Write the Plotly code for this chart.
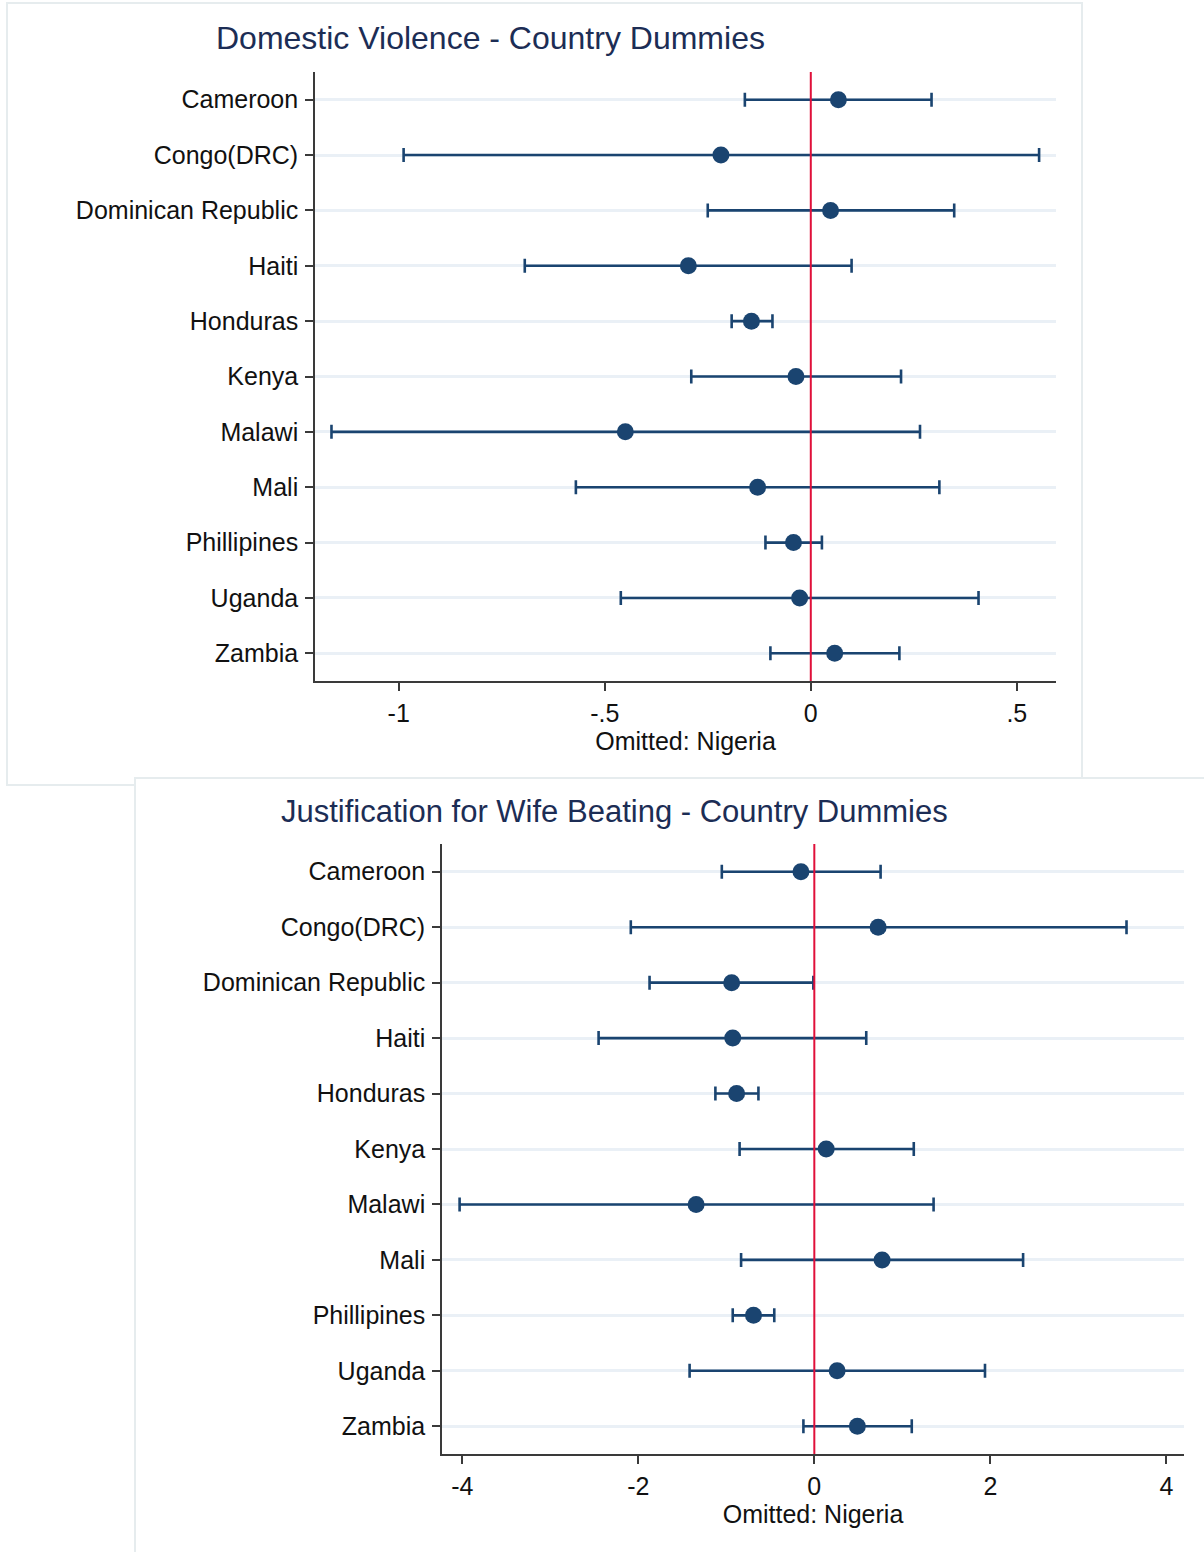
import plotly.graph_objects as go

W, H = 1204, 1552

countries = ["Cameroon", "Congo(DRC)", "Dominican Republic", "Haiti", "Honduras",
             "Kenya", "Malawi", "Mali", "Phillipines", "Uganda", "Zambia"]

# Panel 1: Domestic Violence
dv_est = [0.067, -0.218, 0.048, -0.297, -0.144, -0.036, -0.450, -0.129, -0.042, -0.027, 0.058]
dv_lo = [-0.160, -0.988, -0.250, -0.694, -0.192, -0.290, -1.163, -0.570, -0.110, -0.461, -0.098]
dv_hi = [0.293, 0.554, 0.348, 0.099, -0.093, 0.219, 0.265, 0.312, 0.027, 0.407, 0.215]
dv_ticks = [-1, -0.5, 0, 0.5]
dv_ticktext = ["-1", "-.5", "0", ".5"]

# Panel 2: Justification for Wife Beating
wb_est = [-0.152, 0.725, -0.939, -0.927, -0.883, 0.135, -1.343, 0.770, -0.691, 0.259, 0.489]
wb_lo = [-1.051, -2.085, -1.872, -2.451, -1.124, -0.849, -4.030, -0.832, -0.927, -1.417, -0.124]
wb_hi = [0.753, 3.547, -0.011, 0.590, -0.635, 1.130, 1.355, 2.372, -0.455, 1.939, 1.107]
wb_ticks = [-4, -2, 0, 2, 4]
wb_ticktext = ["-4", "-2", "0", "2", "4"]

titles = ["Domestic Violence - Country Dummies",
          "Justification for Wife Beating - Country Dummies"]
xtitle = "Omitted: Nigeria"

NAVY = "#1a4470"
RED = "#e0103a"
GRID = "#eaf0f6"
AXIS = "#3a3a3a"
TXT = "#111111"
TITLEC = "#1c2d55"
FONT = "Liberation Sans, Arial, sans-serif"


def px(x):
    return x / W


def py(y):
    return 1 - y / H


fig = go.Figure()


def add_panel(est, lo, hi, xa, ya):
    fig.add_trace(go.Scatter(
        x=est, y=countries, mode="markers",
        xaxis=xa, yaxis=ya,
        marker=dict(symbol="circle", size=17, color=NAVY),
        error_x=dict(type="data", symmetric=False,
                     array=[h - e for h, e in zip(hi, est)],
                     arrayminus=[e - l for e, l in zip(est, lo)],
                     color=NAVY, thickness=2.6, width=7),
        showlegend=False, hoverinfo="skip",
    ))


add_panel(dv_est, dv_lo, dv_hi, "x", "y")
add_panel(wb_est, wb_lo, wb_hi, "x2", "y2")

axis_common = dict(showline=True, linecolor=AXIS, linewidth=1.6, mirror=False,
                   ticks="outside", ticklen=8, tickwidth=1.6, tickcolor=AXIS,
                   tickfont=dict(family=FONT, size=25, color=TXT),
                   zeroline=False, automargin=False)

fig.update_layout(
    width=W, height=H,
    margin=dict(l=0, r=0, t=0, b=0),
    template="none",
    paper_bgcolor="white",
    plot_bgcolor="rgba(0,0,0,0)",
    font=dict(family=FONT, color=TXT),
    xaxis=dict(domain=[px(315), px(1056)], anchor="y", range=[-1.203, 0.595],
               tickvals=dv_ticks, ticktext=dv_ticktext, showgrid=False,
               ticklabelstandoff=1,
               title=dict(text=xtitle, font=dict(family=FONT, size=25, color=TXT), standoff=1),
               **axis_common),
    yaxis=dict(domain=[py(681), py(72)], anchor="x", type="category",
               categoryorder="array", categoryarray=countries,
               range=[10.5, -0.5], showgrid=True, gridcolor=GRID, gridwidth=3,
               ticklabelstandoff=2,
               **axis_common),
    xaxis2=dict(domain=[px(442), px(1184)], anchor="y2", range=[-4.23, 4.2],
                tickvals=wb_ticks, ticktext=wb_ticktext, showgrid=False,
                ticklabelstandoff=1,
                title=dict(text=xtitle, font=dict(family=FONT, size=25, color=TXT), standoff=1),
                **axis_common),
    yaxis2=dict(domain=[py(1454), py(844)], anchor="x2", type="category",
                categoryorder="array", categoryarray=countries,
                range=[10.5, -0.5], showgrid=True, gridcolor=GRID, gridwidth=3,
                ticklabelstandoff=2,
                **axis_common),
)

# graph region boxes (second overlaps first)
fig.add_shape(type="rect", xref="paper", yref="paper",
              x0=px(7), x1=px(1082), y0=py(785), y1=py(3),
              line=dict(color="#e6ecee", width=2), fillcolor="white", layer="below")
fig.add_shape(type="rect", xref="paper", yref="paper",
              x0=px(135), x1=px(1220), y0=py(1570), y1=py(778),
              line=dict(color="#e6ecee", width=2), fillcolor="white", layer="below")

# reference lines at zero
for xr, yr in (("x", "y domain"), ("x2", "y2 domain")):
    fig.add_shape(type="line", xref=xr, yref=yr, x0=0, x1=0, y0=0, y1=1,
                  line=dict(color=RED, width=2), layer="above")

# panel titles
fig.add_annotation(text=titles[0], xref="paper", yref="paper", x=px(490), y=py(38),
                   xanchor="center", yanchor="middle", showarrow=False,
                   font=dict(family=FONT, size=32, color=TITLEC))
fig.add_annotation(text=titles[1], xref="paper", yref="paper", x=px(614), y=py(811),
                   xanchor="center", yanchor="middle", showarrow=False,
                   font=dict(family=FONT, size=31, color=TITLEC))

fig.write_html("out.html",
               config={"displayModeBar": False},
               post_script="document.body.style.margin='0';document.body.style.padding='0';"
                           "document.body.style.overflow='hidden';")
